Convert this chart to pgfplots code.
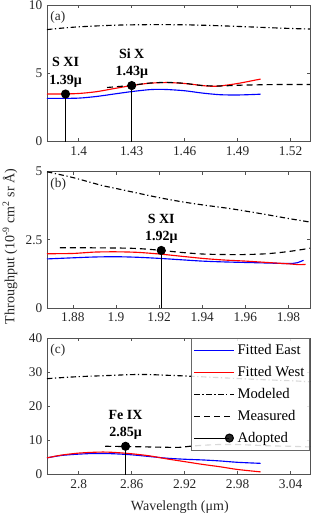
\documentclass[border=0pt]{standalone}
\usepackage{fontspec}
\setmainfont{Liberation Serif}
\usepackage{pgfplots}
\pgfplotsset{compat=1.18}

\definecolor{feast}{rgb}{0,0,1}
\definecolor{fwest}{rgb}{1,0,0}
\definecolor{axgray}{rgb}{0.15,0.15,0.15}

\pgfplotsset{
  panel/.style={
    width=197.25pt, height=102.4pt, scale only axis,
    anchor=north west,
    /pgf/number format/assume math mode=true,
    tick align=inside, major tick length=2.5pt,
    axis line style={axgray!80, line width=0.45pt},
    tick style={axgray!80, line width=0.45pt},
    ticklabel style={font=\fontsize{10}{12}\selectfont, color=axgray},
    label style={font=\fontsize{10.5}{12}\selectfont, color=axgray},
    every axis plot/.append style={line width=0.85pt},
    ymin=0,
  },
  modeled/.style={black, dash pattern=on 4pt off 2pt on 0.9pt off 2pt},
  measured/.style={black, dash pattern=on 4.5pt off 3pt},
  adopted/.style={black, line width=0.8pt, ycomb, mark=*, mark size=3pt, mark options={solid, fill=black}},
  longlegend/.style={legend image code/.code={\draw[##1] plot coordinates {(0cm,0cm) (1.05cm,0cm)};}},
  adoptedlegend/.style={legend image code/.code={\draw[##1, sharp plot, mark repeat=2, mark phase=2] plot coordinates {(0cm,0cm) (0.92cm,0cm)};}},
}
\tikzset{
  lbl/.style={font=\fontsize{10.5}{12}\selectfont\bfseries, align=center, anchor=south, inner sep=0pt, yshift=5pt},
  plbl/.style={font=\fontsize{10}{12}\selectfont, anchor=north west, inner sep=0pt, color=axgray},
}

\begin{document}
\begin{tikzpicture}
\useasboundingbox (-35.25pt,-384.75pt) rectangle (201pt,3.75pt);

% ---------------- (a) ----------------
\begin{axis}[panel, at={(0,0)},
  xmin=1.382, xmax=1.531, ymax=10,
  xtick={1.4,1.43,1.46,1.49,1.52},
  xticklabels={1.4,1.43,1.46,1.49,1.52},
  ytick={0,5,10}]
\addplot[feast, smooth] coordinates {(1.382,3.16) (1.39,3.16) (1.40,3.18) (1.41,3.30) (1.42,3.48) (1.43,3.66) (1.44,3.80) (1.445,3.82) (1.45,3.81) (1.46,3.72) (1.47,3.55) (1.48,3.43) (1.49,3.41) (1.50,3.45) (1.503,3.47)};
\addplot[fwest, smooth] coordinates {(1.382,3.48) (1.39,3.48) (1.40,3.52) (1.41,3.65) (1.42,3.88) (1.43,4.10) (1.44,4.27) (1.45,4.32) (1.46,4.25) (1.47,4.10) (1.475,4.05) (1.48,4.07) (1.49,4.25) (1.50,4.50) (1.503,4.57)};
\addplot[modeled, smooth] coordinates {(1.382,8.20) (1.39,8.30) (1.40,8.40) (1.42,8.52) (1.44,8.56) (1.46,8.55) (1.48,8.48) (1.50,8.38) (1.52,8.28) (1.531,8.24)};
\addplot[measured, smooth] coordinates {(1.416,3.96) (1.42,4.00) (1.43,4.12) (1.44,4.28) (1.45,4.33) (1.46,4.26) (1.47,4.10) (1.48,4.07) (1.49,4.12) (1.50,4.15) (1.51,4.17) (1.52,4.18) (1.531,4.18)};
\addplot[adopted] coordinates {(1.3925,3.48) (1.43,4.10)};
\node[lbl] at (axis cs:1.3925,3.48) {S XI\\[1pt]1.39μ};
\node[lbl] at (axis cs:1.43,4.10) {Si X\\[1pt]1.43μ};
\node[plbl] at (rel axis cs:0.012,0.955) {(a)};
\end{axis}

% ---------------- (b) ----------------
\begin{axis}[panel, at={(0,-124.9pt)},
  xmin=1.868, xmax=1.99, ymax=5,
  xtick={1.88,1.9,1.92,1.94,1.96,1.98},
  xticklabels={1.88,1.9,1.92,1.94,1.96,1.98},
  ytick={0,2.5,5}, yticklabels={0,2.5,5},
  ylabel={Throughput (10\textsuperscript{-9} cm\textsuperscript{2} sr Å)},
  ylabel style={at={(axis description cs:-0.1407,0.45)}, anchor=center}]
\addplot[feast, smooth] coordinates {(1.868,1.80) (1.88,1.84) (1.89,1.87) (1.90,1.88) (1.91,1.86) (1.92,1.82) (1.93,1.77) (1.94,1.72) (1.95,1.69) (1.96,1.67) (1.97,1.65) (1.98,1.63) (1.984,1.66) (1.987,1.75)};
\addplot[fwest, smooth] coordinates {(1.868,1.99) (1.88,2.00) (1.89,2.05) (1.90,2.06) (1.91,2.04) (1.92,1.98) (1.93,1.90) (1.94,1.82) (1.95,1.76) (1.96,1.72) (1.97,1.67) (1.98,1.62) (1.985,1.59) (1.988,1.60)};
\addplot[modeled, smooth] coordinates {(1.868,4.99) (1.88,4.78) (1.893,4.50) (1.90,4.38) (1.919,4.06) (1.93,3.90) (1.94,3.78) (1.954,3.63) (1.97,3.42) (1.98,3.28) (1.99,3.15)};
\addplot[measured, smooth] coordinates {(1.874,2.21) (1.88,2.21) (1.90,2.20) (1.91,2.18) (1.92,2.12) (1.93,2.04) (1.94,1.98) (1.95,1.96) (1.96,1.96) (1.97,1.99) (1.98,2.07) (1.99,2.19)};
\addplot[adopted] coordinates {(1.921,2.11)};
\node[lbl] at (axis cs:1.921,2.11) {S XI\\[1pt]1.92μ};
\node[plbl] at (rel axis cs:0.012,0.955) {(b)};
\end{axis}

% ---------------- (c) ----------------
\begin{axis}[panel, at={(0,-249.8pt)},
  xmin=2.764, xmax=3.062, ymax=40,
  xtick={2.8,2.86,2.92,2.98,3.04},
  xticklabels={2.8,2.86,2.92,2.98,3.04},
  ytick={0,10,20,30,40},
  xlabel={Wavelength (μm)},
  xlabel style={at={(axis description cs:0.505,-0.242)}, anchor=center},
  legend style={at={(rel axis cs:1,1)}, anchor=north east,
    draw=axgray!70, fill=white, fill opacity=0.85, text opacity=1,
    font=\fontsize{11}{13}\selectfont, inner xsep=2pt, inner ysep=2.5pt, row sep=3.3pt,
    cells={anchor=west}},
  longlegend]
\addplot[feast, smooth] coordinates {(2.764,4.9) (2.78,5.6) (2.80,6.0) (2.82,6.2) (2.84,6.1) (2.86,5.8) (2.88,5.3) (2.90,4.8) (2.92,4.5) (2.94,4.3) (2.96,4.0) (2.98,3.6) (3.006,3.3)};
\addlegendentry{Fitted East}
\addplot[fwest, smooth] coordinates {(2.764,4.9) (2.78,5.7) (2.80,6.3) (2.824,6.6) (2.84,6.5) (2.86,6.1) (2.88,5.5) (2.90,4.6) (2.92,3.8) (2.94,3.0) (2.96,2.3) (2.98,1.5) (3.006,0.8)};
\addlegendentry{Fitted West}
\addplot[modeled, smooth] coordinates {(2.764,28.1) (2.78,28.4) (2.80,28.7) (2.82,28.9) (2.84,29.1) (2.86,29.3) (2.88,29.3) (2.90,29.1) (2.92,28.9) (2.96,28.4) (3.00,27.9) (3.04,27.5) (3.062,27.2)};
\addlegendentry{Modeled}
\addplot[measured, smooth] coordinates {(2.83,8.3) (2.86,8.2) (2.88,8.1) (2.90,8.0) (2.915,8.0) (2.93,8.4) (2.957,8.8) (2.98,8.8) (3.00,8.6) (3.02,8.4) (3.04,8.3) (3.062,8.1)};
\addlegendentry{Measured}
\addplot[adopted, adoptedlegend] coordinates {(2.853,8.3)};
\addlegendentry{Adopted}
\node[lbl] at (axis cs:2.853,8.3) {Fe IX\\[1pt]2.85μ};
\node[plbl] at (rel axis cs:0.012,0.955) {(c)};
\end{axis}

\end{tikzpicture}
\end{document}
